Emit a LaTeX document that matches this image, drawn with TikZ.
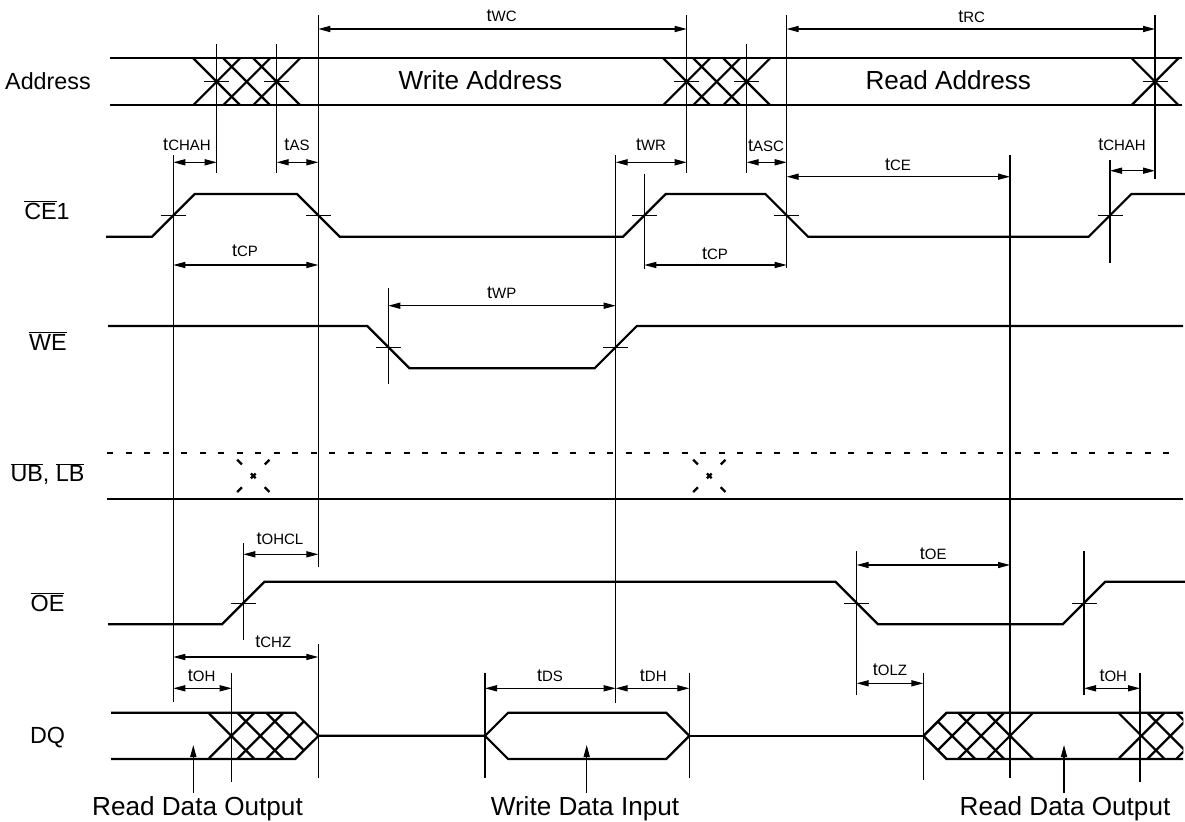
\documentclass[tikz,border=0pt]{standalone}
\usepackage{fontspec}
\setmainfont{Liberation Sans}
\usepackage{tikz}
\usetikzlibrary{arrows.meta}

\newcommand{\tlab}[1]{{\fontsize{13.5}{14}\selectfont t}{\fontsize{11.25}{12}\selectfont #1}}
\newcommand{\nbar}[1]{$\overline{\mbox{#1}}$}

\tikzset{
  sig/.style={line width=1.7pt},
  guide/.style={line width=0.8pt},
  tick/.style={line width=0.7pt},
  dim/.style={line width=0.8pt, {Triangle[length=9pt,width=4.6pt]}-{Triangle[length=9pt,width=4.6pt]}},
  uparr/.style={line width=0.8pt, -{Triangle[length=9pt,width=4.6pt]}},
  tl/.style={anchor=base, inner sep=0pt},
  sname/.style={anchor=base, inner sep=0pt, font=\fontsize{17.5}{18}\selectfont},
  big/.style={anchor=base, inner sep=0pt, font=\fontsize{19.6}{20}\selectfont},
  dotx/.style={sig, dash pattern=on 5pt off 9.6pt, dash phase=7.14pt}
}

\begin{document}
\begin{tikzpicture}[x=0.75pt, y=-0.75pt]
        \useasboundingbox (0,0) rectangle (1185,821);

        % Signal names
        \draw (48,89.5)    node(address) [sname] {Address};
        \draw (47,219.3)   node(ce)      [sname] {\nbar{CE}1};
        \draw (48,350)     node(we)      [sname] {\nbar{WE}};
        \draw (47.5,481.7) node(ublb)    [sname] {\nbar{UB}, \nbar{LB}};
        \draw (47.5,611)   node(oe)      [sname] {\nbar{OE}};
        \draw (47.5,743.3) node(dq)      [sname] {DQ};

        % Address bus
        \draw[sig] (110,58.3) -- (1182,58.3);
        \draw[sig] (110,105) -- (1182,105);
        \foreach \c in {216.7,246.7,276.7,686.7,716.7,746.7,1155} {
          \draw[sig] (\c-23.35,58.3) -- (\c+23.35,105);
          \draw[sig] (\c-23.35,105) -- (\c+23.35,58.3);
        }
        \draw (480.5,89.3) node(wraddr) [big] {Write Address};
        \draw (948.3,89.3) node(rdaddr) [big] {Read Address};

        % CE1, WE, OE
        \draw[sig] (106,236.7) -- (151.95,236.7) -- (194.65,194) -- (296.95,194) -- (339.65,236.7)
          -- (622.95,236.7) -- (665.65,194) -- (765.35,194) -- (808.05,236.7)
          -- (1088.65,236.7) -- (1131.35,194) -- (1185,194);
        \draw[sig] (108,326) -- (367.15,326) -- (409.45,368.3) -- (594.55,368.3) -- (636.85,326) -- (1183,326);
        \draw[sig] (108,624.3) -- (222,624.3) -- (264.6,581.7) -- (835.4,581.7) -- (878,624.3)
          -- (1062.7,624.3) -- (1105.3,581.7) -- (1185,581.7);

        % UB, LB
        \draw[sig, dash pattern=on 4.5pt off 9.4pt] (107,452.7) -- (1175,452.7);
        \draw[sig] (107,499) -- (1183,499);
        \foreach \c in {253.3,709.3} {
          \draw[dotx] (\c-23.15,452.7) -- (\c+23.15,499);
          \draw[dotx] (\c-23.15,499) -- (\c+23.15,452.7);
        }

        % DQ
        \draw[sig] (111,712.7) -- (295.3,712.7) -- (318.5,735.85) -- (295.3,759) -- (111,759);
        \draw[sig] (318.5,735.85) -- (485,735.85) -- (508.15,712.7) -- (666.15,712.7) -- (689.3,735.85)
          -- (666.15,759) -- (508.15,759) -- (485,735.85);
        \draw[sig] (689.3,735.85) -- (923.3,735.85);
        \draw[sig] (1183,712.7) -- (946.45,712.7) -- (923.3,735.85) -- (946.45,759) -- (1183,759);
        \begin{scope}
          \clip (208.3,712.7) -- (295.3,712.7) -- (318.5,735.85) -- (295.3,759) -- (208.3,759) -- cycle;
          \foreach \s in {208.3,237.3,266.3} {
            \draw[sig] (\s,712.7) -- ++(46.3,46.3);
            \draw[sig] (\s,759) -- ++(46.3,-46.3);
          }
        \end{scope}
        \begin{scope}
          \clip (923.3,735.85) -- (946.45,712.7) -- (1036,712.7) -- (1036,759) -- (946.45,759) -- cycle;
          \foreach \s in {900.15,929.05,957.95,986.85} {
            \draw[sig] (\s,712.7) -- ++(46.3,46.3);
            \draw[sig] (\s,759) -- ++(46.3,-46.3);
          }
        \end{scope}
        \begin{scope}
          \clip (1118.3,712.7) rectangle (1183.3,759);
          \foreach \s in {1118.3,1147.2,1176.1} {
            \draw[sig] (\s,712.7) -- ++(46.3,46.3);
            \draw[sig] (\s,759) -- ++(46.3,-46.3);
          }
        \end{scope}

        % Crossing ticks
        \foreach \x/\y in {216.7/81.7, 276.7/81.7, 686.7/81.7, 746.7/81.7, 1155/81.7,
                           173.3/215.3, 318.3/215.3, 644.3/215.3, 786.7/215.3, 1110/215.3,
                           388.3/347.2, 615.7/347.2, 243.3/603, 856.7/603, 1084/603}
          \draw[tick] (\x,\y) ++(-12.5,0) -- ++(25,0);

        % Guide lines
        \foreach \x/\a/\b in {173.3/155/701.7, 216.7/44/173, 276.7/44/173, 318.3/15/566.7, 318.3/644/778.3,
                              686.7/15/173, 746.7/44/173, 786.7/15/268, 1155/15/179, 615.7/155/703.3,
                              644.3/174/269, 1110/160/263.3, 388.3/288.3/384, 1010/155/778.3,
                              243.3/543.3/640, 856.7/551/695, 1084/551/695, 231.7/672.7/781.7,
                              485/672.7/777.7, 689.3/672.7/777.7, 923.3/672.7/780, 1140/672.7/781.7}
          \draw[guide] (\x,\a) -- (\x,\b);

        % Timing arrows
        \coordinate (wcA) at (318.3,29);    \coordinate (wcB) at (686.7,29);
        \coordinate (rcA) at (786.7,29);    \coordinate (rcB) at (1155,29);
        \coordinate (chA) at (173.3,162.3); \coordinate (chB) at (216.7,162.3);
        \coordinate (asA) at (276.7,162.3); \coordinate (asB) at (318.3,162.3);
        \coordinate (wrA) at (615.7,162.3); \coordinate (wrB) at (686.7,162.3);
        \coordinate (scA) at (746.7,162.3); \coordinate (scB) at (786.7,162.3);
        \coordinate (ceA) at (786.7,176.7); \coordinate (ceB) at (1010,176.7);
        \coordinate (hhA) at (1110,170.7);  \coordinate (hhB) at (1155,170.7);
        \coordinate (cpA) at (173.3,265);   \coordinate (cpB) at (318.3,265);
        \coordinate (cqA) at (644.3,265);   \coordinate (cqB) at (786.7,265);
        \coordinate (wpA) at (388.3,305.7); \coordinate (wpB) at (615.7,305.7);
        \coordinate (hcA) at (243.3,554.3); \coordinate (hcB) at (318.3,554.3);
        \coordinate (oeA) at (856.7,565);   \coordinate (oeB) at (1010,565);
        \coordinate (czA) at (173.3,657);   \coordinate (czB) at (318.3,657);
        \coordinate (ohA) at (173.3,688.3); \coordinate (ohB) at (231.7,688.3);
        \coordinate (dsA) at (485,688.3);   \coordinate (dsB) at (615.7,688.3);
        \coordinate (dhA) at (615.7,688.3); \coordinate (dhB) at (689.3,688.3);
        \coordinate (lzA) at (856.7,683.3); \coordinate (lzB) at (923.3,683.3);
        \coordinate (oiA) at (1084,688.3);  \coordinate (oiB) at (1140,688.3);

        \draw[dim] (wcA) -- (wcB);  \draw[dim] (rcA) -- (rcB);
        \draw[dim] (chA) -- (chB);  \draw[dim] (asA) -- (asB);
        \draw[dim] (wrA) -- (wrB);  \draw[dim] (scA) -- (scB);
        \draw[dim] (ceA) -- (ceB);  \draw[dim] (hhA) -- (hhB);
        \draw[dim] (cpA) -- (cpB);  \draw[dim] (cqA) -- (cqB);
        \draw[dim] (wpA) -- (wpB);  \draw[dim] (hcA) -- (hcB);
        \draw[dim] (oeA) -- (oeB);  \draw[dim] (czA) -- (czB);
        \draw[dim] (ohA) -- (ohB);  \draw[dim] (dsA) -- (dsB);
        \draw[dim] (dhA) -- (dhB);  \draw[dim] (lzA) -- (lzB);
        \draw[dim] (oiA) -- (oiB);

        % Timing labels
        \draw (501.7,21.7)  node(twc)   [tl] {\tlab{WC}};
        \draw (971.7,22.3)  node(trc)   [tl] {\tlab{RC}};
        \draw (187,150.7)   node(tchah) [tl] {\tlab{CHAH}};
        \draw (297,150.7)   node(tas)   [tl] {\tlab{AS}};
        \draw (651,150.7)   node(twr)   [tl] {\tlab{WR}};
        \draw (766,151.7)   node(tasc)  [tl] {\tlab{ASC}};
        \draw (898,170)     node(tce)   [tl] {\tlab{CE}};
        \draw (1122,150.7)  node(tchh)  [tl] {\tlab{CHAH}};
        \draw (245,256)     node(tcp)   [tl] {\tlab{CP}};
        \draw (715,259.3)   node(tcq)   [tl] {\tlab{CP}};
        \draw (501.7,298.3) node(twp)   [tl] {\tlab{WP}};
        \draw (280,544)     node(tohcl) [tl] {\tlab{OHCL}};
        \draw (933.3,559)   node(toe)   [tl] {\tlab{OE}};
        \draw (273.3,647.7) node(tchz)  [tl] {\tlab{CHZ}};
        \draw (201.7,681.7) node(toh)   [tl] {\tlab{OH}};
        \draw (550,681.7)   node(tds)   [tl] {\tlab{DS}};
        \draw (653.3,681.7) node(tdh)   [tl] {\tlab{DH}};
        \draw (890,675)     node(tolz)  [tl] {\tlab{OLZ}};
        \draw (1113.3,681.7) node(tohb) [tl] {\tlab{OH}};

        % Data labels
        \draw (197.5,815) node(rdout)  [big] {Read Data Output};
        \draw (585,815)   node(wrin)   [big] {Write Data Input};
        \draw (1065,815)  node(rdoutb) [big] {Read Data Output};
        \coordinate (rdtip)  at (193.3,745);
        \coordinate (wrtip)  at (586.7,745);
        \coordinate (rdtipb) at (1064,745);
        \draw[uparr] (rdout.north -| rdtip) ++(0,-3) -- (rdtip);
        \draw[uparr] (wrin.north -| wrtip) ++(0,-3) -- (wrtip);
        \draw[uparr] (rdoutb.north -| rdtipb) ++(0,-3) -- (rdtipb);

\end{tikzpicture}
\end{document}
